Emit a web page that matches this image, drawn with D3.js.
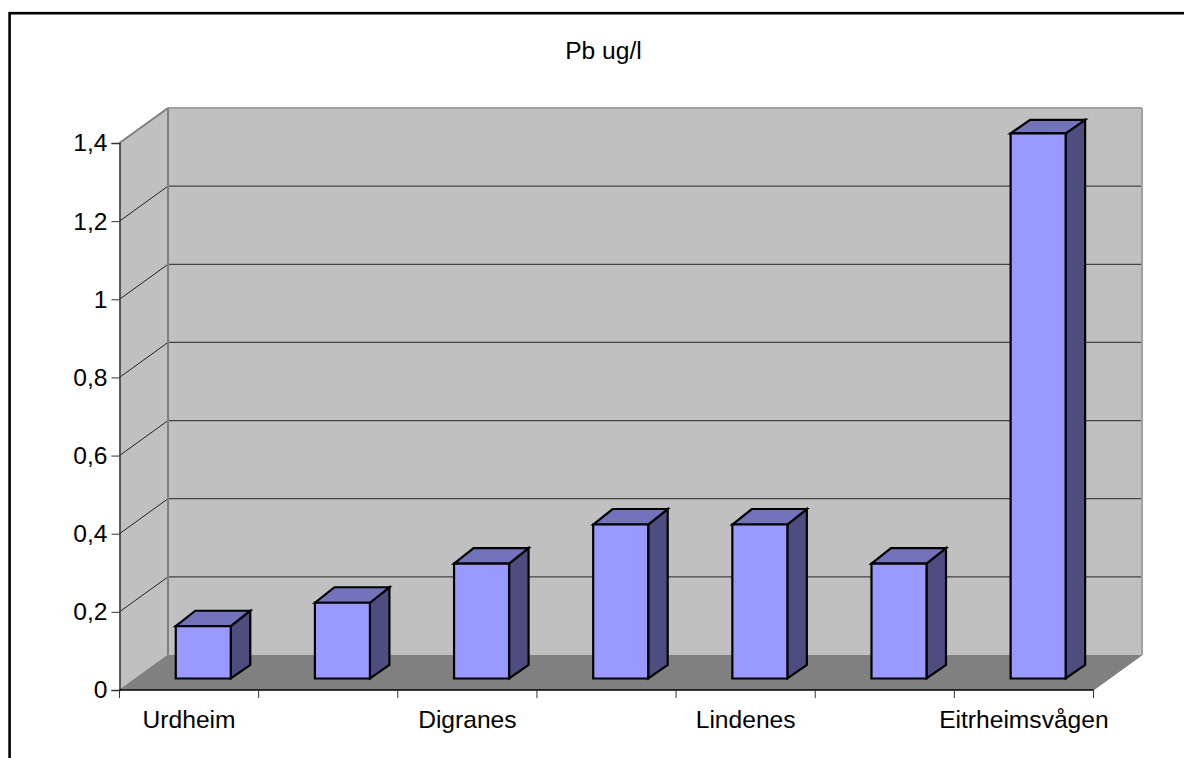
<!DOCTYPE html>
<html><head><meta charset="utf-8">
<script src="https://cdnjs.cloudflare.com/ajax/libs/d3/7.8.5/d3.min.js"></script>
<style>html,body{margin:0;padding:0;background:#fff;overflow:hidden}svg{display:block}text{font-family:"Liberation Sans",Arial,sans-serif;fill:#000}</style>
</head><body><svg id="c" width="1184" height="758"></svg>
<script>
const categories = ["Urdheim","cat2","Digranes","cat4","Lindenes","cat6","Eitrheimsvågen"];
const tickLabels = ["Urdheim","","Digranes","","Lindenes","","Eitrheimsvågen"];
const values = [0.14,0.2,0.3,0.4,0.4,0.3,1.4];
const yTicks = [0,0.2,0.4,0.6,0.8,1,1.2,1.4];
const title = "Pb ug/l";

const svg = d3.select("#c");
const L=119.5,R=1093.5,B=690,T=143,DX=48.5,DY=-35,FS=24.6;
const x = d3.scaleBand().domain(categories).range([L,R]);
const y = d3.scaleLinear().domain([0,1.4]).range([B,T]);
const fmt = v => String(v).replace(".",",");
const poly=(pts,fill,stroke,sw)=>svg.append("polygon").attr("points",pts.map(p=>p.join(",")).join(" "))
  .attr("fill",fill).attr("stroke",stroke||"none").attr("stroke-width",sw||0).attr("stroke-linejoin","miter");
const line=(x1,y1,x2,y2,c,w)=>svg.append("line").attr("x1",x1).attr("y1",y1).attr("x2",x2).attr("y2",y2).attr("stroke",c).attr("stroke-width",w);

// chart frame: its right and bottom edges fall outside the picture
svg.append("rect").attr("x",9.6).attr("y",13.2).attr("width",1300).attr("height",900).attr("fill","#fff").attr("stroke","#000").attr("stroke-width",2.6);

// walls
poly([[L+DX,T+DY],[R+DX,T+DY],[R+DX,B+DY],[L+DX,B+DY]],"#c0c0c0");
poly([[L,T],[L+DX,T+DY],[L+DX,B+DY],[L,B]],"#c0c0c0");
poly([[L,B],[L+DX,B+DY],[R+DX,B+DY],[R,B]],"#808080");
// gridlines
yTicks.slice(1,-1).forEach(v=>{
  line(L,y(v),L+DX,y(v)+DY,"#222",1);
  line(L+DX,y(v)+DY,R+DX,y(v)+DY,"#444",1.2);
});
// wall edges
line(L,T,L+DX,T+DY,"#808080",2);
line(L+DX,T+DY,R+DX,T+DY,"#a0a0a0",2);
line(R+DX,T+DY,R+DX,B+DY,"#a0a0a0",2);
line(L+DX,T+DY,L+DX,B+DY,"#808080",2);
line(L,B,L+DX,B+DY,"#808080",1);
line(R,B,R+DX,B+DY,"#808080",1);

// bars
const bw=55, off=14.2, baseLift=2.5, bx=19.5, byBase=-13.5, sw=2.2;
const yBar=d3.scaleLinear().domain([0,1.4]).range([681,133.3]);
categories.forEach((c,i)=>{
  const x0=x(c)+x.bandwidth()/2+off-bw/2, x1=x0+bw, yt=yBar(values[i]), yb=yBar(0)-baseLift;
  const byTop=values[i]>1?-13.5:-15.5;
  poly([[x1,yt],[x1+bx,yt+byTop],[x1+bx,yb+byBase],[x1,yb]],"#4d4d80","#000",sw);
  poly([[x0,yt],[x0+bx,yt+byTop],[x1+bx,yt+byTop],[x1,yt]],"#7373bb","#000",sw);
  poly([[x0,yt],[x1,yt],[x1,yb],[x0,yb]],"#9999ff","#000",sw);
});

// axes
const yAxis=d3.axisLeft(y).tickValues(yTicks).tickFormat(fmt).tickSize(8).tickPadding(4);
const gy=svg.append("g").attr("transform",`translate(${L},0)`).call(yAxis);
gy.select(".domain").attr("stroke","#333").attr("stroke-width",1.5);
gy.selectAll(".tick line").attr("stroke","#333");
gy.selectAll("text").attr("font-size",FS).attr("font-family","Liberation Sans").attr("fill","#000");
const xTickPos=d3.range(categories.length+1).map(i=>L+i*x.step());
svg.append("line").attr("x1",L).attr("x2",R).attr("y1",B).attr("y2",B).attr("stroke","#000").attr("stroke-width",1.5);
xTickPos.forEach(p=>line(p,B,p,B+8,"#333",1));
const gx=svg.append("g").attr("transform",`translate(0,${B})`);
categories.forEach((c,i)=>{
  gx.append("text").attr("x",x(c)+x.bandwidth()/2).attr("y",38).attr("text-anchor","middle").attr("font-size",FS).text(tickLabels[i]);
});
svg.append("text").attr("x",603.5).attr("y",59).attr("text-anchor","middle").attr("font-size",FS).text(title);
</script></body></html>
